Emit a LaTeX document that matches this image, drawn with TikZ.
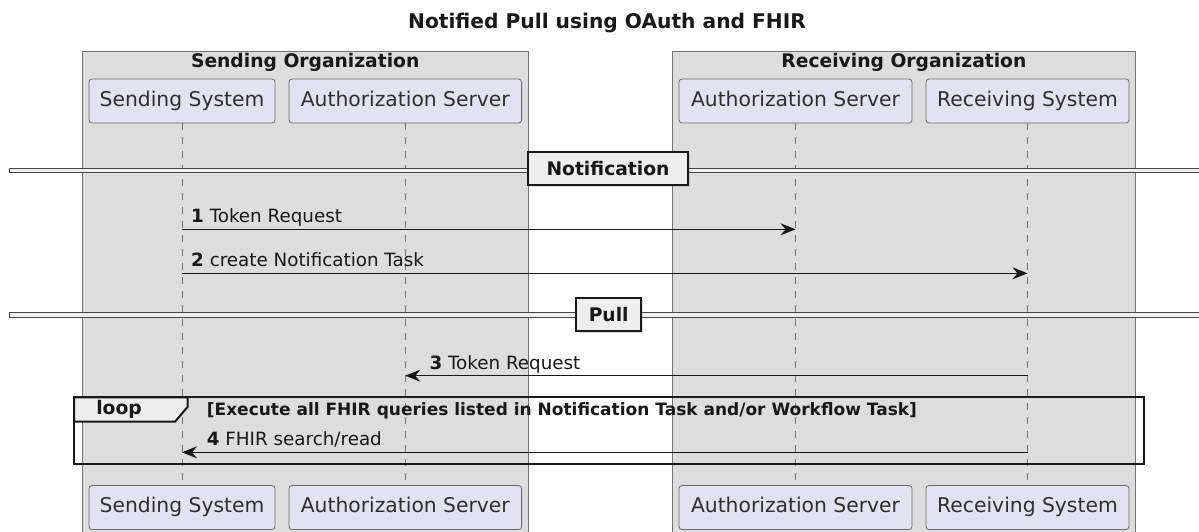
\documentclass[tikz,border=0pt]{standalone}
\usepackage{fontspec}
\setmainfont{DejaVu Sans}
\usetikzlibrary{arrows.meta,shadows}
\definecolor{partfill}{HTML}{E2E2F0}
\definecolor{boxfill}{HTML}{DDDDDD}
\definecolor{tabfill}{HTML}{EEEEEE}
\definecolor{ink}{HTML}{181818}
\tikzset{
  participant/.style={draw=ink!65, line width=0.8pt, fill=partfill, rounded corners=3pt,
    minimum height=44pt, inner sep=0pt, text height=14.5pt, text depth=4pt,
    text=ink!90, font=\fontsize{20.3}{24}\selectfont},
  orgbox/.style={draw=black!55, line width=0.8pt, fill=boxfill},
  orgtitle/.style={inner sep=0pt, text=ink, font=\bfseries\fontsize{18.7}{22}\selectfont},
  lifeline/.style={draw=ink!60, line width=0.8pt, dash pattern=on 7pt off 7pt},
  msg/.style={draw=ink, line width=1pt, -{Stealth[length=15pt,width=12pt,inset=5pt]}},
  msglabel/.style={anchor=base west, inner sep=0pt, text=ink, font=\fontsize{18.3}{22}\selectfont},
  divband/.style={draw=ink!80, line width=0.8pt, fill=tabfill},
  divbox/.style={draw=ink, line width=2pt, fill=tabfill, inner sep=0pt, minimum height=33pt,
    text height=13.5pt, text depth=0pt, text=ink, font=\bfseries\fontsize{18.7}{22}\selectfont,
    drop shadow={opacity=0.25, shadow xshift=2pt, shadow yshift=-2pt}},
  loopframe/.style={draw=ink, line width=2pt},
}
\begin{document}
\begin{tikzpicture}[x=1pt,y=-1pt]
\clip (0,0) rectangle (1199,531);
\fill[white] (0,0) rectangle (1199,531);

% title
\node[inner sep=0pt, text=ink, font=\bfseries\fontsize{20.2}{24}\selectfont] (title) at (607,23.3)
  {Notified Pull using OAuth and FHIR};

% organisation boxes
\draw[orgbox] (82.3,51.7) rectangle (528,545);
\draw[orgbox] (672.7,51.7) rectangle (1135,545);
\node[orgtitle] (sorg) at (305.2,62.3) {Sending Organization};
\node[orgtitle] (rorg) at (903.9,62.3) {Receiving Organization};

% participants (top)
\node[participant, minimum width=186pt] (sstop) at (182,101) {Sending System};
\node[participant, minimum width=232.6pt] (astop) at (405.3,101) {Authorization Server};
\node[participant, minimum width=233pt] (artop) at (795.5,101) {Authorization Server};
\node[participant, minimum width=203pt] (rstop) at (1027.5,101) {Receiving System};

% participants (bottom)
\node[participant, minimum width=186pt] (ssbot) at (182,507.5) {Sending System};
\node[participant, minimum width=232.6pt] (asbot) at (405.3,507.5) {Authorization Server};
\node[participant, minimum width=233pt] (arbot) at (795.5,507.5) {Authorization Server};
\node[participant, minimum width=203pt] (rsbot) at (1027.5,507.5) {Receiving System};

% lifelines
\draw[lifeline] (sstop.south) -- (ssbot.north);
\draw[lifeline] (astop.south) -- (asbot.north);
\draw[lifeline] (artop.south) -- (arbot.north);
\draw[lifeline] (rstop.south) -- (rsbot.north);

% divider: Notification
\draw[divband] (9.6,168.3) rectangle (1205,172.7);
\node[divbox, minimum width=160pt] (divnote) at (608,168.7) {Notification};

% message rows
\coordinate (m1) at (0,229.3);
\coordinate (m2) at (0,273.3);
\coordinate (m3) at (0,375.7);
\coordinate (m4) at (0,452.3);

\draw[msg] (sstop |- m1) -- (artop |- m1);
\node[msglabel] (l1) at (191,222.8) {\textbf{1} Token Request};
\draw[msg] (sstop |- m2) -- (rstop |- m2);
\node[msglabel] (l2) at (191,266.8) {\textbf{2} create Notification Task};

% divider: Pull
\draw[divband] (9.6,312.6) rectangle (1205,317);
\node[divbox, minimum width=65pt] (divpull) at (608.7,314.7) {Pull};

\draw[msg] (rstop |- m3) -- (astop |- m3);
\node[msglabel] (l3) at (429.4,369.2) {\textbf{3} Token Request};

% loop fragment
\draw[loopframe] (74,397.3) rectangle (1144,464);
\draw[loopframe, fill=tabfill, line join=miter]
  (74,397.3) -- (187.5,397.3) -- (187.5,407) -- (175,421.7) -- (74,421.7) -- cycle;
\node[inner sep=0pt, text=ink, font=\bfseries\fontsize{18.7}{22}\selectfont] (looptag) at (119,409) {loop};
\node[anchor=west, inner sep=0pt, text=ink, font=\bfseries\fontsize{17}{20}\selectfont] (loopcond) at (206.7,410.7)
  {[Execute all FHIR queries listed in Notification Task and/or Workflow Task]};

\draw[msg] (rstop |- m4) -- (sstop |- m4);
\node[msglabel] (l4) at (206.7,445.8) {\textbf{4} FHIR search/read};
\end{tikzpicture}
\end{document}
